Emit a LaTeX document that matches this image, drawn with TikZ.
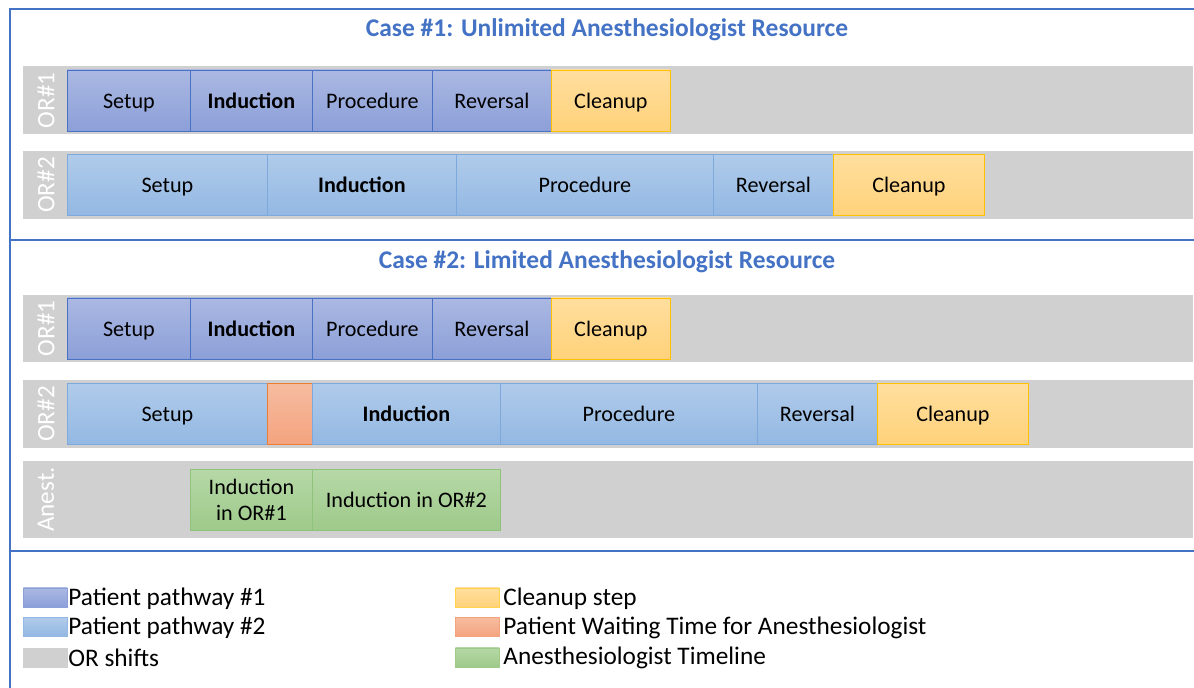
\documentclass[tikz,border=0pt]{standalone}
\usepackage{fontspec}
\setmainfont{Carlito}
\usepackage{tikz}

\definecolor{frameblue}{HTML}{4472C4}
\definecolor{shiftgray}{HTML}{D0D0D0}
\definecolor{oneTop}{HTML}{AAB8E2}
\definecolor{oneBot}{HTML}{8C9FD8}
\definecolor{oneLine}{HTML}{4A72C4}
\definecolor{twoTop}{HTML}{B0CBEA}
\definecolor{twoBot}{HTML}{93B8E3}
\definecolor{twoLine}{HTML}{7EA9DC}
\definecolor{cleanTop}{HTML}{FFDE9E}
\definecolor{cleanBot}{HTML}{FFD27A}
\definecolor{cleanLine}{HTML}{FFC000}
\definecolor{waitTop}{HTML}{F6BCA0}
\definecolor{waitBot}{HTML}{F4A37F}
\definecolor{waitLine}{HTML}{ED7D31}
\definecolor{anTop}{HTML}{B6D8A7}
\definecolor{anBot}{HTML}{9ECA8A}
\definecolor{anLine}{HTML}{8FC27A}

\begin{document}
\begin{tikzpicture}[x=0.02cm, y=-0.02cm,
    box/.style={draw, line width=0.5pt, inner sep=0pt, anchor=west,
      minimum height=61*0.02cm, font=\fontsize{12.6}{15}\selectfont},
    lbl/.style={text height=1.8ex, text depth=0ex},
    wd/.style={minimum width=#1*0.02cm},
    pone/.style={box, lbl, top color=oneTop, bottom color=oneBot, draw=oneLine},
    ptwo/.style={box, lbl, top color=twoTop, bottom color=twoBot, draw=twoLine},
    clean/.style={box, lbl, top color=cleanTop, bottom color=cleanBot, draw=cleanLine},
    wait/.style={box, top color=waitTop, bottom color=waitBot, draw=waitLine},
    anest/.style={box, top color=anTop, bottom color=anBot, draw=anLine, align=center},
    rowlbl/.style={rotate=90, text=white, font=\fontsize{14.3}{16}\selectfont},
    title/.style={text=frameblue, font=\bfseries\fontsize{14.5}{17}\selectfont},
    swatch/.style={draw, line width=0.4pt, inner sep=0pt, minimum width=44*0.02cm,
      minimum height=19*0.02cm, anchor=west},
    legtext/.style={anchor=west, inner sep=0pt, font=\fontsize{14.4}{17}\selectfont}]

  \useasboundingbox (0,0) rectangle (1194,688);

  % frame
  \draw [frameblue, line width=1.4pt] (10,688) -- (10,9) -- (1194,9);
  \draw [frameblue, line width=1.4pt] (10,240) -- (1194,240);
  \draw [frameblue, line width=1.4pt] (10,551) -- (1194,551);

  % case 1
  \node [title] (t1) at (607,30) {Case \#1: Unlimited Anesthesiologist Resource};

  \fill [shiftgray] (23,66) rectangle (1193,134);
  \node [rowlbl] (l11) at (46,100.5) {OR\#1};
  \node [pone, wd=123] (a1) at (67,100.5) {Setup};
  \node [pone, wd=122] (a2) at (190,100.5) {\bfseries Induction};
  \node [pone, wd=120] (a3) at (312,100.5) {Procedure};
  \node [pone, wd=119] (a4) at (432,100.5) {Reversal};
  \node [clean, wd=119] (a5) at (551,100.5) {Cleanup};

  \fill [shiftgray] (23,151) rectangle (1193,219);
  \node [rowlbl] (l12) at (46,185) {OR\#2};
  \node [ptwo, wd=200] (b1) at (67,185) {Setup};
  \node [ptwo, wd=189] (b2) at (267,185) {\bfseries Induction};
  \node [ptwo, wd=257] (b3) at (456,185) {Procedure};
  \node [ptwo, wd=120] (b4) at (713,185) {Reversal};
  \node [clean, wd=151] (b5) at (833,185) {Cleanup};

  % case 2
  \node [title] (t2) at (607,262) {Case \#2: Limited Anesthesiologist Resource};

  \fill [shiftgray] (23,295) rectangle (1193,362);
  \node [rowlbl] (l21) at (46,328.5) {OR\#1};
  \node [pone, wd=123] (c1) at (67,328.5) {Setup};
  \node [pone, wd=122] (c2) at (190,328.5) {\bfseries Induction};
  \node [pone, wd=120] (c3) at (312,328.5) {Procedure};
  \node [pone, wd=119] (c4) at (432,328.5) {Reversal};
  \node [clean, wd=119] (c5) at (551,328.5) {Cleanup};

  \fill [shiftgray] (23,380) rectangle (1193,448);
  \node [rowlbl] (l22) at (46,414) {OR\#2};
  \node [ptwo, wd=200] (d1) at (67,414) {Setup};
  \node [wait, wd=45] (d0) at (267,414) {};
  \node [ptwo, wd=188] (d2) at (312,414) {\bfseries Induction};
  \node [ptwo, wd=257] (d3) at (500,414) {Procedure};
  \node [ptwo, wd=120] (d4) at (757,414) {Reversal};
  \node [clean, wd=151] (d5) at (877,414) {Cleanup};

  \fill [shiftgray] (23,461) rectangle (1193,538);
  \node [rowlbl] (l23) at (46,499.5) {Anest.};
  \node [anest, wd=122] (e1) at (190,500) {Induction\\in OR\#1};
  \node [anest, wd=188] (e2) at (312,500) {Induction in OR\#2};

  % legend
  \node [swatch, top color=oneTop, bottom color=oneBot, draw=oneBot] (k1) at (23,597.5) {};
  \node [legtext] (k1t) at (68,598.5) {Patient pathway \#1};
  \node [swatch, top color=twoTop, bottom color=twoBot, draw=twoBot] (k2) at (23,627) {};
  \node [legtext] (k2t) at (68,628) {Patient pathway \#2};
  \node [swatch, fill=shiftgray, draw=shiftgray] (k3) at (23,657.5) {};
  \node [legtext] (k3t) at (68,658) {OR shifts};

  \node [swatch, top color=cleanTop, bottom color=cleanBot, draw=cleanLine!70] (k4) at (455,597.5) {};
  \node [legtext] (k4t) at (503,598.5) {Cleanup step};
  \node [swatch, top color=waitTop, bottom color=waitBot, draw=waitBot] (k5) at (455,627) {};
  \node [legtext] (k5t) at (503,628) {Patient Waiting Time for Anesthesiologist};
  \node [swatch, top color=anTop, bottom color=anBot, draw=anBot] (k6) at (455,657.5) {};
  \node [legtext] (k6t) at (503,658) {Anesthesiologist Timeline};
\end{tikzpicture}
\end{document}
